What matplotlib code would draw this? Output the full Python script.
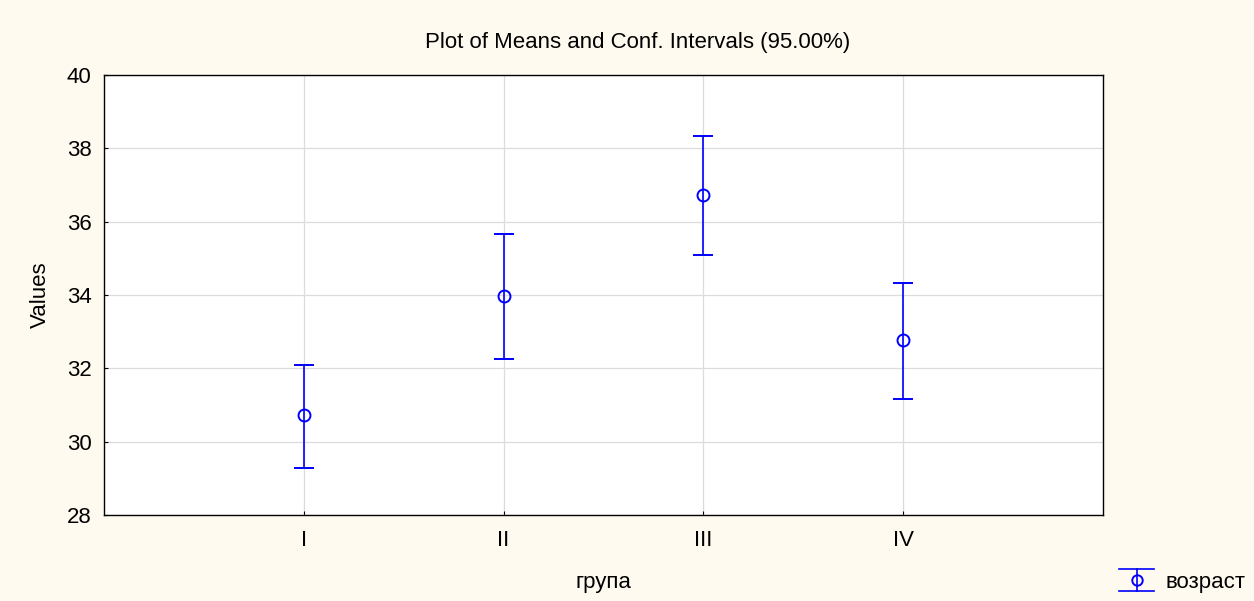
import matplotlib
matplotlib.use("Agg")
import matplotlib.pyplot as plt
from matplotlib.lines import Line2D

groups = ["I", "II", "III", "IV"]
means = [30.72, 33.98, 36.72, 32.77]
upper = [32.09, 35.67, 38.33, 34.32]
lower = [29.28, 32.26, 35.08, 31.17]
series_name = "возраст"

plt.rcParams["font.family"] = ["Liberation Sans", "DejaVu Sans"]

bg = "#fffaf0"
blue = "#0000ff"
fs = 16

x = list(range(1, len(groups) + 1))
err_lo = [m - l for m, l in zip(means, lower)]
err_hi = [u - m for m, u in zip(means, upper)]

fig = plt.figure(figsize=(12.54, 6.01), dpi=100, facecolor=bg)
ax = fig.add_axes([0.0829, 0.1431, 0.7967, 0.7321])
ax.set_facecolor("white")

ax.errorbar(x, means, yerr=[err_lo, err_hi], fmt="o", color=blue,
            mfc="none", mec=blue, ms=8.6, mew=1.4, elinewidth=1.2,
            capsize=7.2, capthick=1.2, zorder=3)

ax.set_xlim(0, 5)
ax.set_ylim(28, 40)
ax.set_xticks(x)
ax.set_xticklabels(groups)
ax.set_yticks(range(28, 41, 2))
ax.grid(True, color="#dcdcdc", lw=0.9)
ax.set_axisbelow(True)
for s in ax.spines.values():
    s.set_color("black")
    s.set_linewidth(1.0)
ax.tick_params(axis="both", labelsize=fs, length=3, width=0.8, direction="in")
ax.tick_params(axis="x", pad=11)
ax.tick_params(axis="y", pad=9)

fig.text(0.5084, 0.9206, "Plot of Means and Conf. Intervals (95.00%)",
         ha="center", va="baseline", fontsize=fs)
fig.text(0.481, 0.022, "група", ha="center", va="baseline", fontsize=fs)
fig.text(0.032, 0.509, "Values", ha="center", va="center", rotation=90,
         fontsize=fs)

# legend key: small error bar glyph plus series name
fig.add_artist(Line2D([0.8923, 0.9203], [0.0532, 0.0532], color=blue, lw=1.2,
                      transform=fig.transFigure))
fig.add_artist(Line2D([0.8923, 0.9203], [0.0166, 0.0166], color=blue, lw=1.2,
                      transform=fig.transFigure))
fig.add_artist(Line2D([0.9063, 0.9063], [0.0166, 0.0532], color=blue, lw=1.2,
                      transform=fig.transFigure))
fig.add_artist(Line2D([0.9063], [0.0349], marker="o", ms=7.5, mfc="none",
                      mec=blue, mew=1.4, transform=fig.transFigure))
fig.text(0.9296, 0.0211, series_name, ha="left", va="baseline", fontsize=fs)

fig.savefig("out.png", dpi=100, facecolor=bg)
